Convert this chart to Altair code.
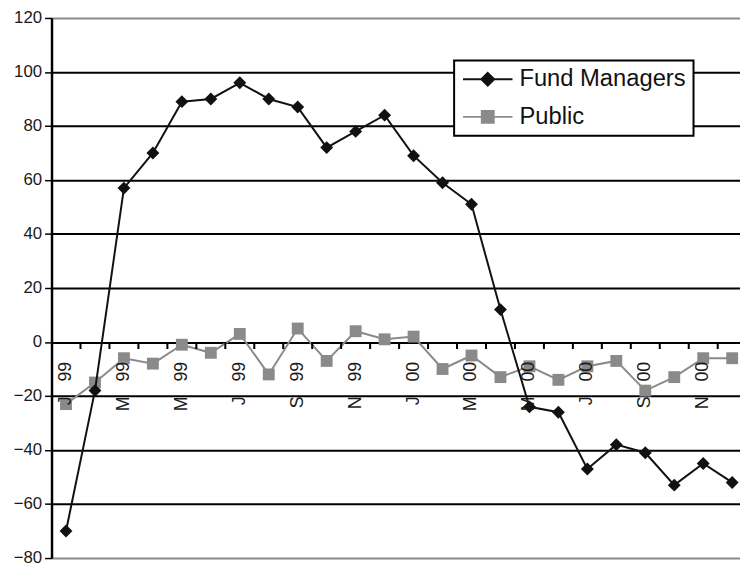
import altair as alt
import pandas as pd

months = list(range(24))
fund_managers = [-70, -18, 57, 70, 89, 90, 96, 90, 87, 72, 78, 84,
                 69, 59, 51, 12, -24, -26, -47, -38, -41, -53, -45, -52]
public = [-23, -15, -6, -8, -1, -4, 3, -12, 5, -7, 4, 1,
          2, -10, -5, -13, -9, -14, -9, -7, -18, -13, -6, -6]
series_names = ["Fund Managers", "Public"]
series_colors = ["#111111", "#8a8a8a"]
tick_labels = ["J\u00a0\u00a0\u00a099", "M\u00a0\u00a0\u00a099", "M\u00a0\u00a0\u00a099",
               "J\u00a0\u00a0\u00a099", "S\u00a0\u00a0\u00a099", "N\u00a0\u00a0\u00a099",
               "J\u00a0\u00a0\u00a000", "M\u00a0\u00a0\u00a000", "M\u00a0\u00a0\u00a000",
               "J\u00a0\u00a0\u00a000", "S\u00a0\u00a0\u00a000", "N\u00a0\u00a0\u00a000"]

rows = []
for m, v in zip(months, fund_managers):
    rows.append({"m": m, "series": "Fund Managers", "value": v})
for m, v in zip(months, public):
    rows.append({"m": m, "series": "Public", "value": v})
df = pd.DataFrame(rows)

lab_df = pd.DataFrame({"m": [2 * i for i in range(len(tick_labels))], "label": tick_labels})
# category-boundary tick marks on the zero line (between consecutive months)
tick_df = pd.DataFrame({"b": [m + 0.5 for m in months[:-1]]})

FONT = "Liberation Sans"
H = 546
W = 696

xscale = alt.Scale(domain=[-0.5, 23.27], nice=False, zero=False)
yscale = alt.Scale(domain=[-80, 120], nice=False, zero=False)

legend_paths = ["M-2.5,0H2.5M0,-0.65L0.65,0L0,0.65L-0.65,0Z",
                "M-2.5,0H2.5M-0.6,-0.6H0.6V0.6H-0.6Z"]

legend = alt.Legend(
    orient="none", legendX=407, legendY=43, title=None,
    labelFontSize=24, labelFont=FONT, labelColor="#111111", labelLimit=400,
    symbolSize=400, symbolStrokeWidth=2, rowPadding=14, padding=7,
    strokeColor="black", fillColor="white", symbolOffset=15, labelOffset=20,
    symbolOpacity=1,
)

x_axis_def = alt.Axis(labels=False, domain=False, grid=False, ticks=False, title=None)
y_axis_def = alt.Axis(values=list(range(-80, 121, 20)), grid=True,
                      gridColor={"condition": {"test": "datum.value === 120 || datum.value === -80",
                                               "value": "#8a8a8a"},
                                 "value": "black"},
                      gridWidth=2, tickColor="black", tickSize=7, tickWidth=1.5,
                      domainColor="black", domainWidth=2.5, labelFontSize=17,
                      labelFont=FONT, labelColor="#1a1a1a", labelPadding=3, title=None)
x_enc = alt.X("m:Q", scale=xscale, axis=x_axis_def)
y_enc = alt.Y("value:Q", scale=yscale, axis=y_axis_def)
y_zero = alt.Y(datum=0, scale=yscale, axis=y_axis_def)


def series_layers(name, color, shape, size):
    base = alt.Chart(df).transform_filter(alt.datum.series == name)
    line = base.mark_line(color=color, strokeWidth=2).encode(x=x_enc, y=y_enc)
    pts = base.mark_point(shape=shape, filled=True, size=size, color=color, opacity=1).encode(
        x=x_enc, y=y_enc)
    return [line, pts]


pub_layers = series_layers("Public", series_colors[1], "square", 144)
fm_layers = series_layers("Fund Managers", series_colors[0], "diamond", 170)

# legend-only layer: no marks drawn, scales carry fixed domains
legend_layer = alt.Chart(df).transform_filter("false").mark_point(opacity=1).encode(
    x=x_enc,
    y=y_enc,
    fill=alt.Fill("series:N", scale=alt.Scale(domain=series_names, range=series_colors), legend=legend),
    stroke=alt.Stroke("series:N", scale=alt.Scale(domain=series_names, range=series_colors), legend=legend),
    shape=alt.Shape("series:N", scale=alt.Scale(domain=series_names, range=legend_paths), legend=legend),
)

ticks = alt.Chart(tick_df).transform_calculate(
    b1="datum.b - 0.035", b2="datum.b + 0.035", t0="0", t1="-2.6"
).mark_rect(color="black", opacity=1).encode(
    x=alt.X("b1:Q", scale=xscale, axis=x_axis_def),
    x2="b2:Q",
    y=alt.Y("t0:Q", scale=yscale, axis=y_axis_def),
    y2="t1:Q",
)

labels = alt.Chart(lab_df).mark_text(
    angle=270, align="right", baseline="middle", dx=-20, fontSize=18, font=FONT, color="#1a1a1a"
).encode(
    x=x_enc,
    y=y_zero,
    text="label:N",
)

chart = alt.layer(legend_layer, *pub_layers, *fm_layers, labels, ticks).properties(
    width=W, height=H,
    autosize=alt.AutoSizeParams(type="none"),
    padding={"left": 44, "top": 7, "right": 0, "bottom": 8},
).configure_view(stroke=None).configure_legend(strokeWidth=2)

chart.save("out.html", embed_options={"renderer": "svg", "actions": False})
